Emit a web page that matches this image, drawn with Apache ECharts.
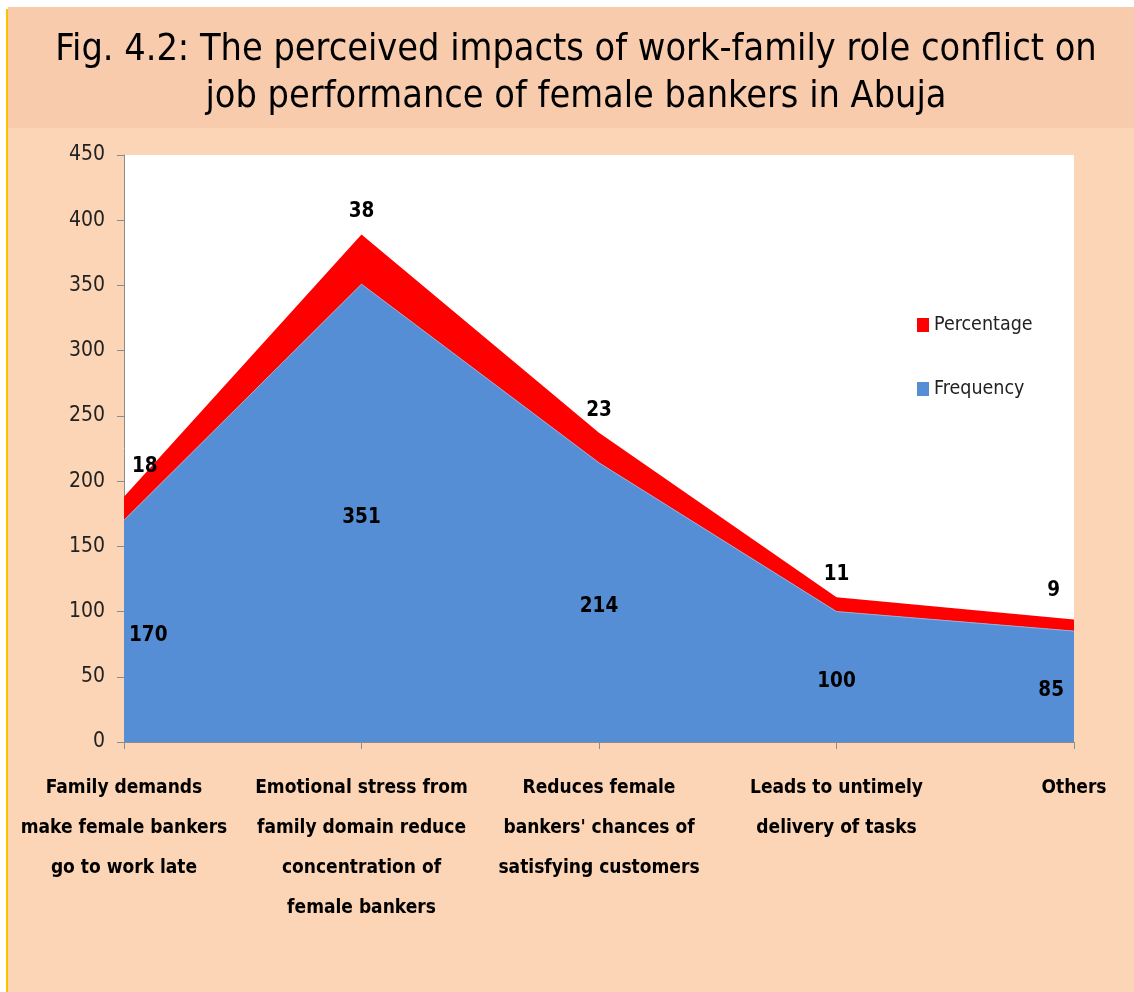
<!DOCTYPE html>
<html><head><meta charset="utf-8">
<script src="https://cdn.jsdelivr.net/npm/echarts@6/dist/echarts.min.js"></script>
<style>html,body{margin:0;padding:0;background:#fff}#c{width:1134px;height:992px}</style>
</head><body><div id="c"></div>
<script>
var categories = [
  "Family demands\nmake female bankers\ngo to work late",
  "Emotional stress from\nfamily domain reduce\nconcentration of\nfemale bankers",
  "Reduces female\nbankers' chances of\nsatisfying customers",
  "Leads to untimely\ndelivery of tasks",
  "Others"
];
var frequency = [170, 351, 214, 100, 85];
var percentage = [18, 38, 23, 11, 9];
var yTicks = { min: 0, max: 450, interval: 50 };
var titleText = "Fig. 4.2: The perceived impacts of work-family role conflict on\njob performance of female bankers in Abuja";

var narrow = "'DejaVu Sans Condensed', 'Liberation Sans Narrow', sans-serif";
var chart = echarts.init(document.getElementById('c'), null, {renderer: 'canvas'});
var n = categories.length;

function edgeLabel(i, base) {
  var o = Object.assign({}, base);
  if (i === 0) { o.align = 'left'; o.offset = [8, 0]; }
  if (i === n - 1) { o.align = 'right'; o.offset = [-14, 0]; }
  return o;
}

var option = {
  animation: false,
  backgroundColor: '#ffffff',
  graphic: [
    {type: 'rect', z: -10, shape: {x: 8, y: 7, width: 1126, height: 985}, style: {fill: '#FBD5B5'}},
    {type: 'rect', z: -9, shape: {x: 8, y: 7, width: 1126, height: 121}, style: {fill: '#F8CBAD'}},
    {type: 'rect', z: -8, shape: {x: 6, y: 9, width: 2, height: 983}, style: {fill: '#FFC000'}},
    {type: 'text', z: 10, x: 576, y: 27,
     style: {text: titleText, textAlign: 'center', textVerticalAlign: 'top',
             font: "normal 37.5px 'DejaVu Sans Condensed', 'DejaVu Sans', sans-serif",
             lineHeight: 47, fill: '#000'}}
  ],
  legend: {
    orient: 'vertical', left: 912, top: 310, itemGap: 44,
    itemWidth: 12, itemHeight: 14, icon: 'rect',
    data: ['Percentage', 'Frequency'],
    textStyle: {fontFamily: narrow, fontSize: 19.5, color: '#222'}
  },
  grid: {left: 124, right: 60, top: 155, bottom: 250, backgroundColor: '#fff', show: true, borderWidth: 0,
         containLabel: false, outerBoundsMode: 'none'},
  xAxis: {
    type: 'category', data: categories, boundaryGap: false,
    axisLine: {lineStyle: {color: '#8c8c8c', width: 1}},
    axisTick: {show: true, alignWithLabel: true, length: 7, lineStyle: {color: '#8c8c8c'}},
    axisLabel: {interval: 0, margin: 26, fontFamily: narrow, fontSize: 19, fontWeight: 'bold', color: '#000', lineHeight: 40},
    splitLine: {show: false}
  },
  yAxis: {
    type: 'value', min: yTicks.min, max: yTicks.max, interval: yTicks.interval,
    axisLine: {show: true, lineStyle: {color: '#8c8c8c'}},
    axisTick: {show: true, length: 7, lineStyle: {color: '#8c8c8c'}},
    axisLabel: {margin: 19, fontFamily: narrow, fontSize: 21, color: '#222'},
    splitLine: {show: false}
  },
  series: [
    {
      name: 'Frequency', type: 'line', stack: 'total',
      showSymbol: true, symbol: 'circle', symbolSize: 0.01,
      lineStyle: {width: 1, color: '#8DB3E2'},
      itemStyle: {color: '#558ED5'},
      areaStyle: {color: '#558ED5', opacity: 1},
      data: frequency.map(function (v, i) {
        return {value: v, label: edgeLabel(i, {})};
      }),
      label: {show: true, position: 'top', fontFamily: narrow, fontSize: 20.5, fontWeight: 'bold', color: '#000'}
    },
    {
      name: 'Percentage', type: 'line', stack: 'total',
      showSymbol: true, symbol: 'circle', symbolSize: 0.01,
      lineStyle: {width: 0, color: '#FF0000'},
      itemStyle: {color: '#FF0000'},
      areaStyle: {color: '#FF0000', opacity: 1},
      data: percentage.map(function (v, i) {
        var lab = edgeLabel(i, {});
        if (i === 0) lab.distance = 20;
        if (i === n - 1) lab.distance = 18;
        return {value: v, label: lab};
      }),
      label: {show: true, position: 'top', distance: 12, fontFamily: narrow, fontSize: 20.5, fontWeight: 'bold', color: '#000'}
    }
  ]
};
chart.setOption(option);

// place frequency labels at mid-height of their area using the chart's own scale
var freqData = frequency.map(function (v, i) {
  var top = chart.convertToPixel({gridIndex: 0}, [i, v]);
  var bottom = chart.convertToPixel({gridIndex: 0}, [i, 0]);
  var dy = (bottom[1] - top[1]) / 2 + 20;
  var lab = edgeLabel(i, {});
  var ox = lab.offset ? lab.offset[0] : 0;
  if (i === 0) ox = 5;
  if (i === n - 1) ox = -10;
  lab.offset = [ox, dy];
  lab.position = 'top';
  return {value: v, label: lab};
});
chart.setOption({series: [{name: 'Frequency', data: freqData}]});
</script></body></html>
